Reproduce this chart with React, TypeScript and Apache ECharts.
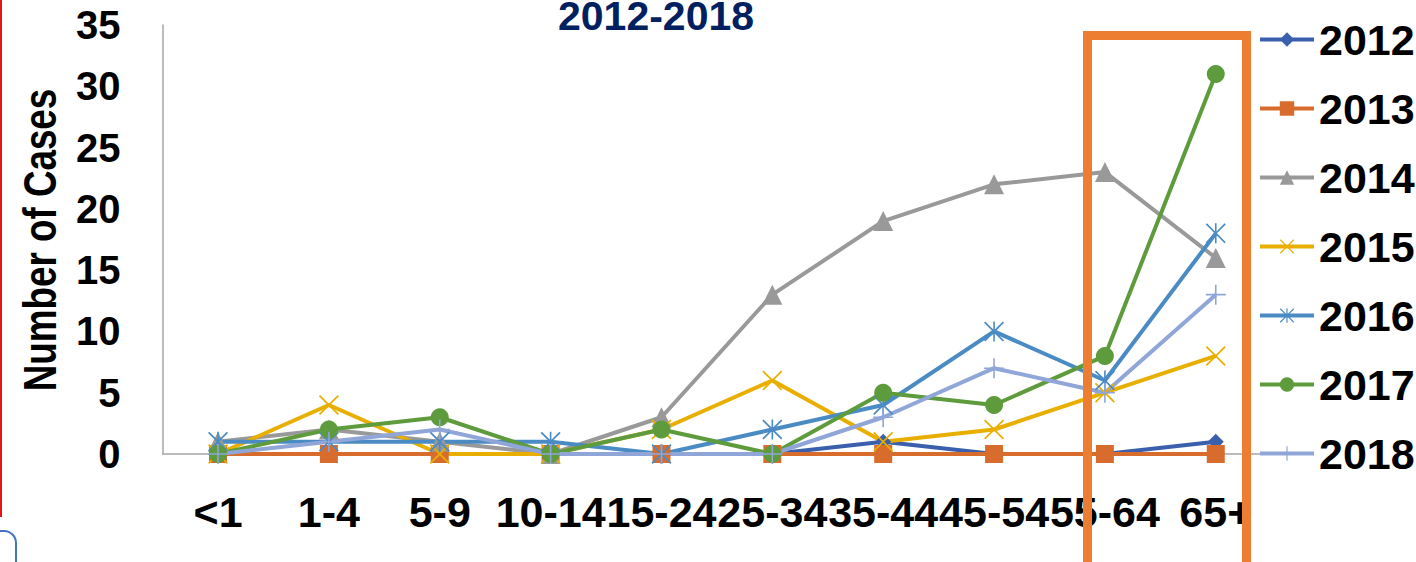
import React, { useEffect, useRef } from "react";
import * as echarts from "echarts";

// Age groups on the category axis
const ageGroups = ["<1", "1-4", "5-9", "10-14", "15-24", "25-34", "35-44", "45-54", "55-64", "65+"];
const yTicks = [0, 5, 10, 15, 20, 25, 30, 35];

// Number of cases per age group, one list per year
const cases2012 = [0, 0, 0, 0, 0, 0, 1, 0, 0, 1];
const cases2013 = [0, 0, 0, 0, 0, 0, 0, 0, 0, 0];
const cases2014 = [1, 2, 1, 0, 3, 13, 19, 22, 23, 16];
const cases2015 = [0, 4, 0, 0, 2, 6, 1, 2, 5, 8];
const cases2016 = [1, 1, 1, 1, 0, 2, 4, 10, 6, 18];
const cases2017 = [0, 2, 3, 0, 2, 0, 5, 4, 8, 31];
const cases2018 = [0, 1, 2, 0, 0, 0, 3, 7, 5, 13];

const years = ["2012", "2013", "2014", "2015", "2016", "2017", "2018"];
const yearColors = ["#3A5FAD", "#D86C2C", "#999999", "#E8AF00", "#4A8BC4", "#5E9B3C", "#90A5D8"];

// Marker outlines for the cross-type markers
const xMark =
  "path://M0,0.6 L0.6,0 L5,4.4 L9.4,0 L10,0.6 L5.6,5 L10,9.4 L9.4,10 L5,5.6 L0.6,10 L0,9.4 L4.4,5 Z";
const starMark =
  "path://M0,0.6 L0.6,0 L5,4.4 L9.4,0 L10,0.6 L5.6,5 L10,9.4 L9.4,10 L5,5.6 L0.6,10 L0,9.4 L4.4,5 Z M4.6,0 L5.4,0 L5.4,10 L4.6,10 Z";
const plusMark =
  "path://M4.6,0 L5.4,0 L5.4,4.6 L10,4.6 L10,5.4 L5.4,5.4 L5.4,10 L4.6,10 L4.6,5.4 L0,5.4 L0,4.6 L4.6,4.6 Z";

const yearData = [cases2012, cases2013, cases2014, cases2015, cases2016, cases2017, cases2018];
const yearSymbols = ["diamond", "rect", "triangle", xMark, starMark, "circle", plusMark];
const symbolSizes = [16, 18, 20, 20, 20, 18, 20];

const FONT = "'Liberation Sans', Arial, sans-serif";

export default function App() {
  const ref = useRef<HTMLDivElement>(null);

  useEffect(() => {
    if (!ref.current) return;
    const chart = echarts.init(ref.current, null, { renderer: "svg" });

    const series = years.map((y, i) => ({
      name: y,
      type: "line",
      data: yearData[i],
      symbol: yearSymbols[i],
      symbolSize: symbolSizes[i],
      showAllSymbol: true,
      lineStyle: { color: yearColors[i], width: 4 },
      itemStyle: { color: yearColors[i] },
      emphasis: { disabled: true },
    }));

    chart.setOption({
      animation: false,
      backgroundColor: "#ffffff",
      grid: { left: 162.6, top: 25, width: 1108.6, height: 429 },
      xAxis: {
        type: "category",
        data: ageGroups,
        boundaryGap: true,
        axisLine: { show: true, lineStyle: { color: "#A6A6A6", width: 1.5 } },
        axisTick: { show: false },
        splitLine: { show: false },
        axisLabel: {
          interval: 0,
          margin: 36,
          color: "#000000",
          fontSize: 43,
          fontWeight: "bold",
          fontFamily: FONT,
        },
      },
      yAxis: {
        type: "value",
        min: yTicks[0],
        max: yTicks[yTicks.length - 1],
        interval: 5,
        axisLine: { show: true, lineStyle: { color: "#A6A6A6", width: 1.5 } },
        axisTick: { show: false },
        splitLine: { show: false },
        axisLabel: {
          margin: 42,
          color: "#000000",
          fontSize: 40,
          fontWeight: "bold",
          fontFamily: FONT,
        },
      },
      legend: {
        orient: "vertical",
        left: 1258,
        top: 18,
        padding: 0,
        itemWidth: 54,
        itemHeight: 18,
        itemGap: 26,
        lineStyle: { width: 4 },
        textStyle: {
          color: "#000000",
          fontSize: 43,
          lineHeight: 43,
          fontWeight: "bold",
          fontFamily: FONT,
        },
        data: years,
      },
      graphic: [
        {
          type: "text",
          x: 656,
          y: 0,
          z: 10,
          style: {
            text: "2012-2018",
            fill: "#002060",
            font: "bold 41px " + FONT,
            lineHeight: 32,
            align: "center",
            verticalAlign: "top",
          },
        },
        {
          // vertical axis title, condensed along its length
          type: "text",
          x: 40,
          y: 240,
          rotation: Math.PI / 2,
          scaleX: 0.8,
          z: 10,
          style: {
            text: "Number of Cases",
            fill: "#000000",
            font: "bold 46px " + FONT,
            align: "center",
            verticalAlign: "middle",
          },
        },
        {
          type: "rect",
          z: 20,
          shape: { x: 1087.5, y: 35.5, width: 159, height: 545 },
          style: { fill: "none", stroke: "#ED7D31", lineWidth: 9 },
        },
        {
          type: "line",
          z: 20,
          shape: { x1: 1, y1: 0, x2: 1, y2: 517 },
          style: { stroke: "#E0161B", lineWidth: 2 },
        },
        {
          type: "rect",
          z: 20,
          shape: { x: -30, y: 531, width: 46, height: 60, r: 12 },
          style: { fill: "none", stroke: "#4472C4", lineWidth: 2 },
        },
      ],
      series,
    });

    return () => chart.dispose();
  }, []);

  return (
    <div
      ref={ref}
      style={{ position: "fixed", left: 0, top: 0, width: 1416, height: 562 }}
    />
  );
}
